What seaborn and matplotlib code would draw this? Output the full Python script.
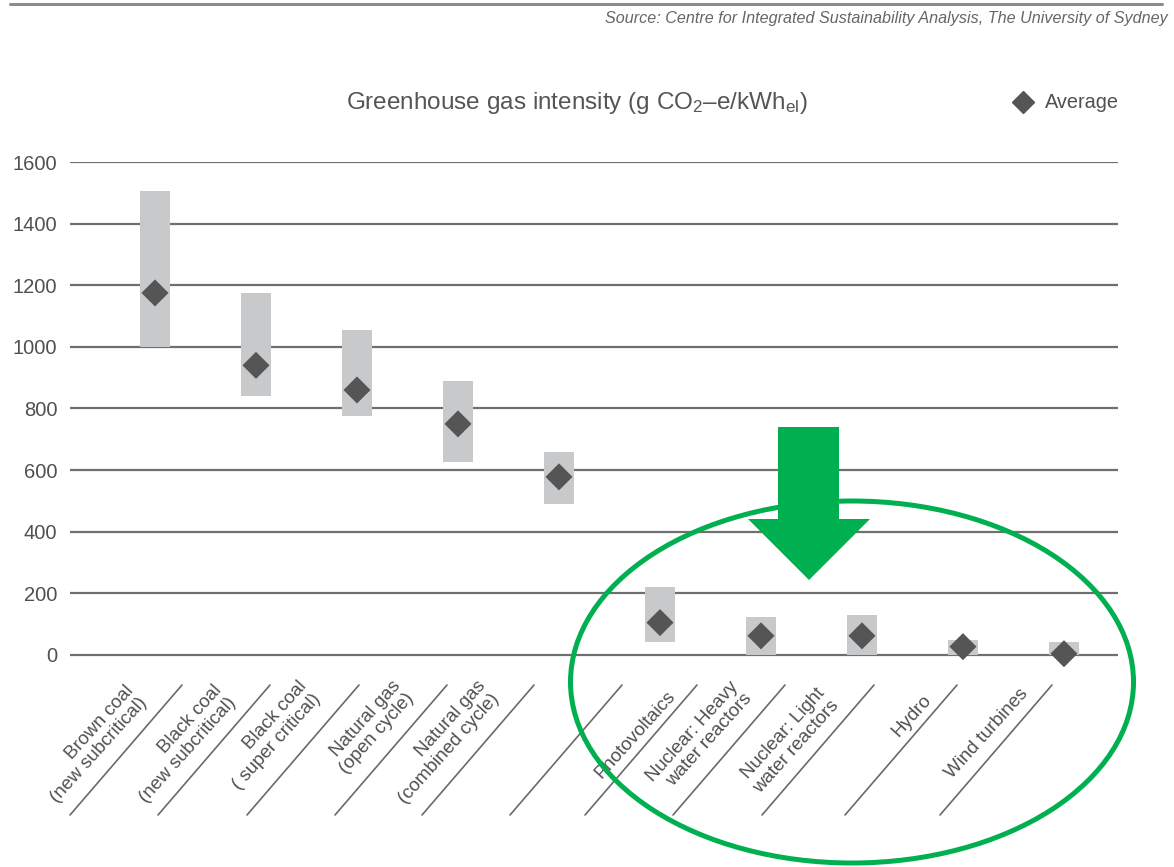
import numpy as np
import matplotlib
matplotlib.use("Agg")
import matplotlib.pyplot as plt
import seaborn as sns
from matplotlib.patches import Ellipse, Polygon
from matplotlib.lines import Line2D

# ---------------- data ----------------
categories = [
    "Brown coal\n(new subcritical)",
    "Black coal\n(new subcritical)",
    "Black coal\n( super critical)",
    "Natural gas\n(open cycle)",
    "Natural gas\n(combined cycle)",
    "Photovoltaics",
    "Nuclear: Heavy\nwater reactors",
    "Nuclear: Light\nwater reactors",
    "Hydro",
    "Wind turbines",
]
range_low = [1000, 840, 775, 625, 490, 43, 0, 0, 0, 0]
range_high = [1505, 1175, 1055, 890, 660, 220, 122, 130, 48, 42]
average = [1175, 940, 860, 750, 578, 105, 62, 62, 27, 4]
y_ticks = [0, 200, 400, 600, 800, 1000, 1200, 1400, 1600]

title_text = r"Greenhouse gas intensity (g CO$_2$–e/kWh$_{el}$)"
source_text = "Source: Centre for Integrated Sustainability Analysis, The University of Sydney"
legend_label = "Average"

# ---------------- layout (pixels) ----------------
W, H = 1174, 867
label_offsets = [(-31, 682), (-43, 682), (-59, 678), (-67, 678), (-83, 678),
                 (6, 688), (-32, 678), (-46, 685), (-41, 692), (-45, 685)]
separator_bottoms = [70, 158, 247, 335, 422, 510, 585, 673, 762, 845, 940]

sns.set_theme(style="white")
plt.rcParams["font.family"] = ["Liberation Sans", "DejaVu Sans"]
plt.rcParams["mathtext.fontset"] = "custom"
plt.rcParams["mathtext.rm"] = "Liberation Sans"
plt.rcParams["mathtext.it"] = "Liberation Sans:italic"
plt.rcParams["mathtext.default"] = "regular"

TEXT = "#505050"
GREEN = "#00b050"


def fx(px):
    return px / W


def fy(py):
    return 1 - py / H


fig = plt.figure(figsize=(W / 100, H / 100), dpi=100)
ax = fig.add_axes([fx(70), fy(679.6), (1118 - 70) / W, (679.6 - 162) / H])

pos = np.arange(len(categories))
heights = np.array(range_high) - np.array(range_low)
ax.bar(pos, heights, bottom=range_low, width=0.30, color="#c8c9cb",
       edgecolor="none", zorder=2)
sns.scatterplot(x=pos, y=average, marker="D", s=190, color="#555555",
                edgecolor="none", linewidth=0, ax=ax, zorder=3, legend=False)

ax.set_xlim(-0.8416, 9.535)
ax.set_ylim(-80, 1600)
ax.set_yticks(y_ticks)
ax.set_xticks([])
ax.set_axisbelow(True)
ax.grid(axis="y", color="#6f6f6f", lw=1.6)
ax.grid(axis="x", visible=False)
for s in ax.spines.values():
    s.set_visible(False)
ax.tick_params(axis="y", length=0, pad=9.0, labelsize=14.5, labelcolor=TEXT)
ax.set_xlabel("")
ax.set_ylabel("")

for i, (lab, (dx, ypx)) in enumerate(zip(categories, label_offsets)):
    ax.annotate(lab, xy=(pos[i], 0), xycoords="data",
                xytext=(dx, 655 - ypx), textcoords="offset pixels",
                rotation=48, rotation_mode="anchor", ha="right", va="top",
                multialignment="right", fontsize=13.5, color=TEXT,
                annotation_clip=False, linespacing=1.1)

for x0 in separator_bottoms:
    fig.add_artist(Line2D([fx(x0), fx(x0 + 112)], [fy(815), fy(685)],
                          color="#6a6a6a", lw=1.2))

fig.text(fx(1168), fy(18), source_text, ha="right", va="center",
         style="italic", fontsize=11.6, color="#666666")
fig.text(fx(577), fy(103), title_text, ha="center", va="center",
         fontsize=17.5, color="#555555")

handle = Line2D([], [], marker="D", ms=11, color="#555555", linestyle="none")
fig.legend(handles=[handle], labels=[legend_label], loc="center left",
           bbox_to_anchor=(fx(1008), fy(103)), frameon=False,
           handlelength=1.5, handletextpad=0.35, borderpad=0, borderaxespad=0,
           fontsize=14.3, labelcolor=TEXT)

fig.add_artist(Line2D([fx(10), fx(1162)], [fy(4), fy(4)],
                      color="#8c8c8c", lw=2.2))

ell = Ellipse((fx(852), fy(682)), 563 / W, 362 / H, transform=fig.transFigure,
              fill=False, ec=GREEN, lw=3.6, zorder=4)
fig.add_artist(ell)
arrow_px = [(778, 427), (839, 427), (839, 519), (870, 519), (809, 580),
            (748, 519), (778, 519)]
arrow = Polygon([(fx(a), fy(b)) for a, b in arrow_px], closed=True,
                transform=fig.transFigure, facecolor=GREEN, edgecolor="none",
                zorder=5)
fig.add_artist(arrow)

fig.savefig("out.png", dpi=100)
